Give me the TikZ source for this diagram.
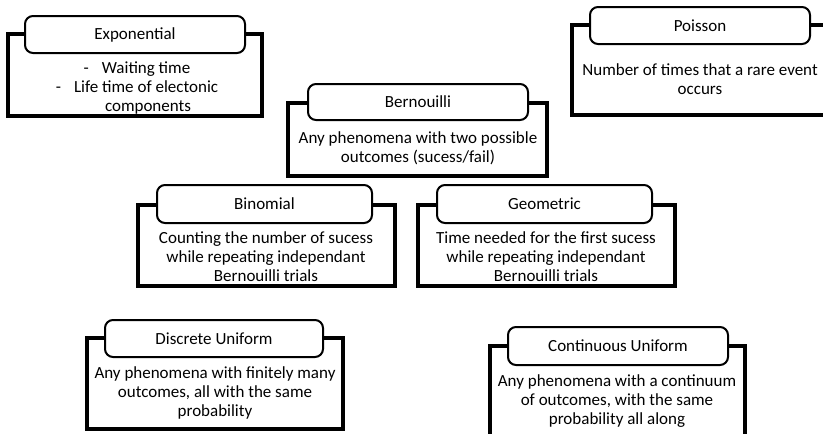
\documentclass[tikz,border=0pt]{standalone}
\usepackage{fontspec}
\setmainfont{Carlito}
\usetikzlibrary{positioning}
\tikzset{
	outerbox/.style={draw, line width=4pt, inner sep=0pt, fill=white},
	titlebox/.style={draw, line width=2pt, rounded corners=8pt, fill=white, inner sep=0pt},
	% the box baseline is the last line: the node sits on that line
	bodytext/.style={align=center, inner sep=0pt, text height=12pt, text depth=4pt}
}
\begin{document}
\begin{tikzpicture}[x=1pt, y=-1pt, line join=miter, font=\fontsize{17}{18.8}\selectfont]
		\useasboundingbox (0,0) rectangle (823,434);
		\clip (0,0) rectangle (823,434);
		% Exponential
		\node[outerbox, minimum width=254pt, minimum height=82pt] (expo) at (135,75) {};
		\node[titlebox, minimum width=220pt, minimum height=37pt] (expoT) at (135,34.5) {Exponential};
		\node[bodytext] (expoB) at (137,107) {-\hspace{13pt}Waiting time\\-\hspace{13pt}Life time of electonic\\\hspace*{22pt}components};
		% Poisson
		\node[outerbox, minimum width=261pt, minimum height=90pt] (pois) at (702.5,70) {};
		\node[titlebox, minimum width=220pt, minimum height=37pt] (poisT) at (700,25.5) {Poisson};
		\node[bodytext] (poisB) at (700,90) {Number of times that a rare event\\occurs};
		% Bernouilli
		\node[outerbox, minimum width=259pt, minimum height=73pt] (bern) at (417.5,139.5) {};
		\node[titlebox, minimum width=220pt, minimum height=36pt] (bernT) at (418,102) {Bernouilli};
		\node[bodytext] (bernB) at (418,158) {Any phenomena with two possible\\outcomes (sucess/fail)};
		% Binomial
		\node[outerbox, minimum width=257pt, minimum height=81pt] (bino) at (266.5,245.5) {};
		\node[titlebox, minimum width=215pt, minimum height=38pt] (binoT) at (264.5,204) {Binomial};
		\node[bodytext] (binoB) at (266,277) {Counting the number of sucess\\while repeating independant\\Bernouilli trials};
		% Geometric
		\node[outerbox, minimum width=257pt, minimum height=81pt] (geom) at (546.5,245.5) {};
		\node[titlebox, minimum width=215pt, minimum height=38pt] (geomT) at (544.5,204) {Geometric};
		\node[bodytext] (geomB) at (546,277) {Time needed for the first sucess\\while repeating independant\\Bernouilli trials};
		% Discrete Uniform
		\node[outerbox, minimum width=256pt, minimum height=91pt] (disc) at (215,383.5) {};
		\node[titlebox, minimum width=218pt, minimum height=37pt] (discT) at (214,338.5) {Discrete Uniform};
		\node[bodytext] (discB) at (215,412) {Any phenomena with finitely many\\outcomes, all with the same\\probability};
		% Continuous Uniform
		\node[outerbox, minimum width=255pt, minimum height=104pt] (cont) at (617.5,398) {};
		\node[titlebox, minimum width=220pt, minimum height=38pt] (contT) at (618,346) {Continuous Uniform};
		\node[bodytext] (contB) at (617,420) {Any phenomena with a continuum\\of outcomes, with the same\\probability all along};
	\end{tikzpicture}
\end{document}
